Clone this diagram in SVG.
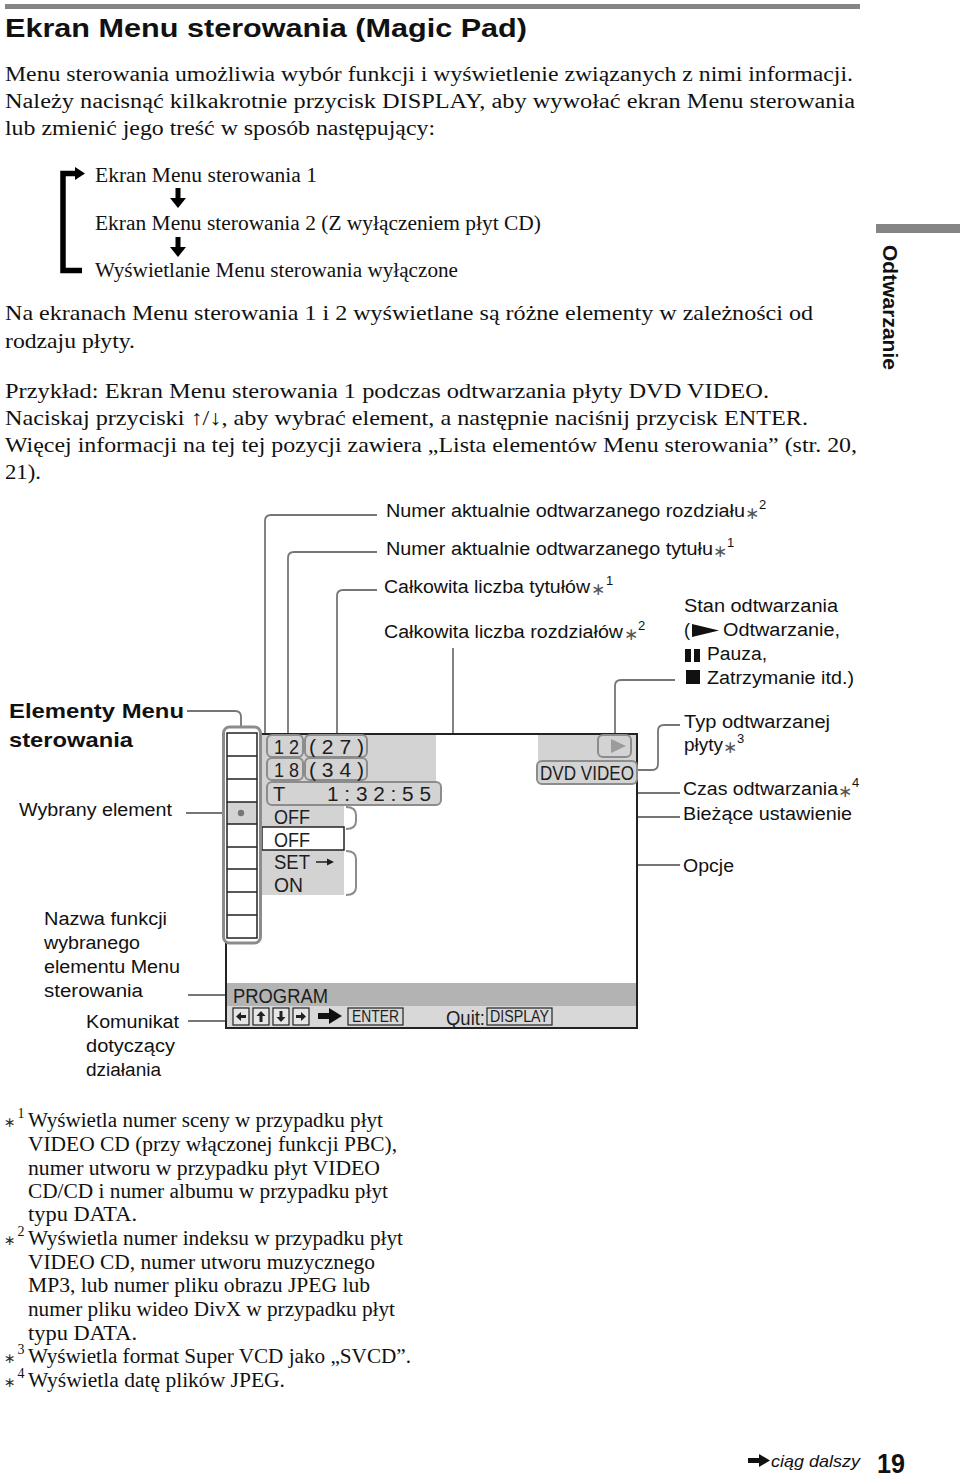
<svg xmlns="http://www.w3.org/2000/svg" width="960" height="1477" viewBox="0 0 960 1477">
<style>
.serif{font-family:"Liberation Serif","Times New Roman",serif;font-size:20px;fill:#111}
.sans{font-family:"Liberation Sans",Arial,sans-serif;font-size:18px;fill:#111}
.bold{font-weight:bold}
.conn{fill:none;stroke:#767676;stroke-width:1.8}
.box{fill:#d3d3d3;stroke:#8c8c8c;stroke-width:2}
.scr{font-family:"Liberation Sans",Arial,sans-serif;font-size:20px;fill:#1e1e1e}
.ast{font-family:"DejaVu Sans",sans-serif;font-size:17px;fill:#555}
.fast{font-family:"DejaVu Sans",sans-serif;font-size:14px;fill:#333}
.sup{font-family:"Liberation Sans",Arial,sans-serif;font-size:13px;fill:#111}
.fsup{font-family:"Liberation Serif",serif;font-size:14px;fill:#111}
.key{fill:#e6e6e6;stroke:#222;stroke-width:1.2}
</style>

<g id="header">
<rect x="5" y="4" width="855" height="5" fill="#858585"/>
<text class="sans bold" x="5" y="37" style="font-size:26px" textLength="522" lengthAdjust="spacingAndGlyphs">Ekran Menu sterowania (Magic Pad)</text>
</g>

<g id="intro">
<text class="serif" x="5" y="81" textLength="848" lengthAdjust="spacingAndGlyphs">Menu sterowania umożliwia wybór funkcji i wyświetlenie związanych z nimi informacji.</text>
<text class="serif" x="5" y="108" textLength="850" lengthAdjust="spacingAndGlyphs">Należy nacisnąć kilkakrotnie przycisk DISPLAY, aby wywołać ekran Menu sterowania</text>
<text class="serif" x="5" y="135" textLength="430" lengthAdjust="spacingAndGlyphs">lub zmienić jego treść w sposób następujący:</text>
</g>

<g id="cycle">
<path d="M77 173.5 H63 V270.5 H82" fill="none" stroke="#000" stroke-width="5.5"/>
<polygon points="75,167 85,173.5 75,180" fill="#000"/>
<text class="serif" x="95" y="182" textLength="222" lengthAdjust="spacingAndGlyphs">Ekran Menu sterowania 1</text>
<rect x="175.5" y="188" width="5" height="11" fill="#000"/>
<polygon points="170,198 186,198 178,208" fill="#000"/>
<text class="serif" x="95" y="230" textLength="446" lengthAdjust="spacingAndGlyphs">Ekran Menu sterowania 2 (Z wyłączeniem płyt CD)</text>
<rect x="175.5" y="237" width="5" height="11" fill="#000"/>
<polygon points="170,247 186,247 178,257" fill="#000"/>
<text class="serif" x="95" y="277" textLength="363" lengthAdjust="spacingAndGlyphs">Wyświetlanie Menu sterowania wyłączone</text>
</g>

<g id="para">
<text class="serif" x="5" y="320" style="font-size:21px" textLength="808" lengthAdjust="spacingAndGlyphs">Na ekranach Menu sterowania 1 i 2 wyświetlane są różne elementy w zależności od</text>
<text class="serif" x="5" y="348" style="font-size:21px" textLength="130" lengthAdjust="spacingAndGlyphs">rodzaju płyty.</text>
<text class="serif" x="5" y="398" style="font-size:21px" textLength="764" lengthAdjust="spacingAndGlyphs">Przykład: Ekran Menu sterowania 1 podczas odtwarzania płyty DVD VIDEO.</text>
<text class="serif" x="5" y="425" style="font-size:21px" textLength="803" lengthAdjust="spacingAndGlyphs">Naciskaj przyciski <tspan font-weight="bold">↑</tspan>/<tspan font-weight="bold">↓</tspan>, aby wybrać element, a następnie naciśnij przycisk ENTER.</text>
<text class="serif" x="5" y="452" style="font-size:21px" textLength="852" lengthAdjust="spacingAndGlyphs">Więcej informacji na tej tej pozycji zawiera „Lista elementów Menu sterowania” (str. 20,</text>
<text class="serif" x="5" y="479" style="font-size:21px" textLength="36" lengthAdjust="spacingAndGlyphs">21).</text>
</g>

<g id="side-tab">
<rect x="876" y="224" width="84" height="9" fill="#858585"/>
<text class="sans bold" style="font-size:21px" transform="translate(883,245) rotate(90)" textLength="125" lengthAdjust="spacingAndGlyphs">Odtwarzanie</text>
</g>

<g id="connectors">
<path class="conn" d="M377 515 H271 Q265 515 265 521 V762 Q265 769 268 769"/>
<path class="conn" d="M377 552 H294 Q288 552 288 558 V735"/>
<path class="conn" d="M377 590 H343 Q337 590 337 596 V735"/>
<path class="conn" d="M453 648 V762 Q453 768 447 768 H367"/>
<path class="conn" d="M675 680 H621 Q615 680 615 686 V735"/>
<path class="conn" d="M680 725 H664 Q658 725 658 731 V764 Q658 770 652 770 H637"/>
<path class="conn" d="M441 793 H680"/>
<path class="conn" d="M356 817 H680"/>
<path class="conn" d="M356 865 H680"/>
<path class="conn" d="M187 711 H235 Q241 711 241 717 V727"/>
<path class="conn" d="M186 813 H241"/>
<path class="conn" d="M188 995 H233"/>
<path class="conn" d="M188 1021 H233"/>
</g>

<g id="screen">
<rect x="226" y="734" width="411" height="294" fill="#fff" stroke="#222" stroke-width="2"/>
<rect x="262" y="735" width="174" height="55" fill="#d3d3d3"/>
<rect x="262" y="790" width="82" height="105" fill="#d3d3d3"/>
<rect x="538" y="735" width="98" height="28" fill="#d3d3d3"/>
<rect x="227" y="983" width="409" height="23" fill="#b3b3b3"/>
<rect x="227" y="1006" width="409" height="21" fill="#d8d8d8"/>
</g>

<g id="row-title">
<rect class="box" x="267" y="735" width="36" height="22" rx="5"/>
<text class="scr" x="274" y="754" textLength="25" lengthAdjust="spacingAndGlyphs">1 2</text>
<rect class="box" x="305" y="735" width="62" height="22" rx="5"/>
<text class="scr" x="309" y="754" textLength="55" lengthAdjust="spacingAndGlyphs">( 2 7 )</text>
</g>
<g id="row-chapter">
<rect class="box" x="267" y="758" width="36" height="22" rx="5"/>
<text class="scr" x="274" y="777" textLength="25" lengthAdjust="spacingAndGlyphs">1 8</text>
<rect class="box" x="305" y="758" width="62" height="22" rx="5"/>
<text class="scr" x="309" y="777" textLength="55" lengthAdjust="spacingAndGlyphs">( 3 4 )</text>
</g>
<g id="row-time">
<rect class="box" x="267" y="782" width="174" height="23" rx="5"/>
<text class="scr" x="273" y="801">T</text>
<text class="scr" x="327" y="801" textLength="104" lengthAdjust="spacingAndGlyphs">1 : 3 2 : 5 5</text>
</g>
<g id="status">
<rect class="box" x="598" y="735" width="33" height="22" rx="5"/>
<polygon points="611,739 611,753 626,746" fill="#9c9c9c"/>
<rect class="box" x="537" y="761" width="100" height="23" rx="5"/>
<text class="scr" x="540" y="780" textLength="94" lengthAdjust="spacingAndGlyphs">DVD VIDEO</text>
</g>
<g id="options">
<text class="scr" x="274" y="824" textLength="36" lengthAdjust="spacingAndGlyphs">OFF</text>
<rect x="262" y="827" width="82" height="23" fill="#fff" stroke="#222" stroke-width="1.5"/>
<text class="scr" x="274" y="847" textLength="36" lengthAdjust="spacingAndGlyphs">OFF</text>
<text class="scr" x="274" y="869" textLength="36" lengthAdjust="spacingAndGlyphs">SET</text>
<path d="M316 862 H328" stroke="#1e1e1e" stroke-width="1.5"/>
<polygon points="327,858.5 334,862 327,865.5" fill="#1e1e1e"/>
<text class="scr" x="274" y="892" textLength="29" lengthAdjust="spacingAndGlyphs">ON</text>
<path d="M346 807 Q356 807 356 815 V821 Q356 829 346 829" fill="none" stroke="#8c8c8c" stroke-width="2"/>
<path d="M346 851 Q356 851 356 859 V887 Q356 895 346 895" fill="none" stroke="#8c8c8c" stroke-width="2"/>
</g>

<g id="menu-column">
<rect x="223.5" y="727" width="37" height="216" rx="6" fill="#fff" stroke="#8c8c8c" stroke-width="3"/>
<rect x="227" y="802" width="30" height="22" fill="#d3d3d3"/>
<rect x="227" y="733" width="30" height="205" fill="none" stroke="#222" stroke-width="1.5"/>
<path d="M227 756 H257 M227 779 H257 M227 802 H257 M227 824 H257 M227 847 H257 M227 869 H257 M227 892 H257 M227 915 H257" stroke="#222" stroke-width="1.5"/>
<circle cx="241" cy="813" r="3.2" fill="#767676"/>
</g>

<g id="bottom-bar">
<text class="scr" x="233" y="1003" textLength="95" lengthAdjust="spacingAndGlyphs">PROGRAM</text>
<rect class="key" x="233" y="1008" width="16" height="17"/>
<polygon points="236,1016.5 241,1012 241,1021" fill="#222"/><rect x="240" y="1015" width="6" height="3" fill="#222"/>
<rect class="key" x="253" y="1008" width="16" height="17"/>
<polygon points="261,1011 256.5,1016 265.5,1016" fill="#222"/><rect x="259.5" y="1015" width="3" height="7" fill="#222"/>
<rect class="key" x="273" y="1008" width="16" height="17"/>
<polygon points="281,1022 276.5,1017 285.5,1017" fill="#222"/><rect x="279.5" y="1011" width="3" height="7" fill="#222"/>
<rect class="key" x="293" y="1008" width="16" height="17"/>
<polygon points="306,1016.5 301,1012 301,1021" fill="#222"/><rect x="296" y="1015" width="6" height="3" fill="#222"/>
<rect x="318" y="1013" width="12" height="6" fill="#111"/>
<polygon points="329,1008 342,1016 329,1024" fill="#111"/>
<rect x="348" y="1008" width="55" height="17" fill="none" stroke="#222" stroke-width="1.2"/>
<text class="scr" x="352" y="1022" style="font-size:16px" textLength="47" lengthAdjust="spacingAndGlyphs">ENTER</text>
<text class="scr" x="446" y="1025" textLength="39" lengthAdjust="spacingAndGlyphs">Quit:</text>
<rect x="487" y="1008" width="65" height="17" fill="none" stroke="#222" stroke-width="1.2"/>
<text class="scr" x="490" y="1022" style="font-size:16px" textLength="59" lengthAdjust="spacingAndGlyphs">DISPLAY</text>
</g>

<g id="lbl-chapter">
<text class="sans" x="386" y="517" textLength="359" lengthAdjust="spacingAndGlyphs">Numer aktualnie odtwarzanego rozdziału</text>
<text class="ast" x="745" y="519">∗</text><text class="sup" x="759" y="509">2</text>
</g>
<g id="lbl-title">
<text class="sans" x="386" y="555" textLength="327" lengthAdjust="spacingAndGlyphs">Numer aktualnie odtwarzanego tytułu</text>
<text class="ast" x="713" y="557">∗</text><text class="sup" x="727" y="547">1</text>
</g>
<g id="lbl-total-titles">
<text class="sans" x="384" y="593" textLength="206" lengthAdjust="spacingAndGlyphs">Całkowita liczba tytułów</text>
<text class="ast" x="591" y="595">∗</text><text class="sup" x="606" y="585">1</text>
</g>
<g id="lbl-total-chapters">
<text class="sans" x="384" y="638" textLength="239" lengthAdjust="spacingAndGlyphs">Całkowita liczba rozdziałów</text>
<text class="ast" x="624" y="640">∗</text><text class="sup" x="638" y="630">2</text>
</g>
<g id="lbl-status">
<text class="sans" x="684" y="612" textLength="154" lengthAdjust="spacingAndGlyphs">Stan odtwarzania</text>
<text class="sans" x="684" y="636">(</text>
<polygon points="692,624 719,630.5 692,637" fill="#111"/>
<text class="sans" x="723" y="636" textLength="117" lengthAdjust="spacingAndGlyphs">Odtwarzanie,</text>
<rect x="685" y="649" width="6" height="13" fill="#111"/><rect x="694" y="649" width="6" height="13" fill="#111"/>
<text class="sans" x="707" y="660" textLength="60" lengthAdjust="spacingAndGlyphs">Pauza,</text>
<rect x="686" y="670" width="14" height="14" fill="#111"/>
<text class="sans" x="707" y="684" textLength="147" lengthAdjust="spacingAndGlyphs">Zatrzymanie itd.)</text>
</g>
<g id="lbl-disc">
<text class="sans" x="684" y="728" textLength="146" lengthAdjust="spacingAndGlyphs">Typ odtwarzanej</text>
<text class="sans" x="684" y="751" textLength="39" lengthAdjust="spacingAndGlyphs">płyty</text>
<text class="ast" x="723" y="753">∗</text><text class="sup" x="737" y="743">3</text>
</g>
<g id="lbl-time">
<text class="sans" x="683" y="795" textLength="155" lengthAdjust="spacingAndGlyphs">Czas odtwarzania</text>
<text class="ast" x="838" y="797">∗</text><text class="sup" x="852" y="787">4</text>
</g>
<g id="lbl-setting">
<text class="sans" x="683" y="820" textLength="169" lengthAdjust="spacingAndGlyphs">Bieżące ustawienie</text>
</g>
<g id="lbl-options">
<text class="sans" x="683" y="872" textLength="51" lengthAdjust="spacingAndGlyphs">Opcje</text>
</g>
<g id="lbl-items">
<text class="sans bold" x="9" y="718" style="font-size:21px" textLength="175" lengthAdjust="spacingAndGlyphs">Elementy Menu</text>
<text class="sans bold" x="9" y="747" style="font-size:21px" textLength="124" lengthAdjust="spacingAndGlyphs">sterowania</text>
</g>
<g id="lbl-selected">
<text class="sans" x="19" y="816" textLength="153" lengthAdjust="spacingAndGlyphs">Wybrany element</text>
</g>
<g id="lbl-function">
<text class="sans" x="44" y="925" textLength="123" lengthAdjust="spacingAndGlyphs">Nazwa funkcji</text>
<text class="sans" x="44" y="949" textLength="96" lengthAdjust="spacingAndGlyphs">wybranego</text>
<text class="sans" x="44" y="973" textLength="136" lengthAdjust="spacingAndGlyphs">elementu Menu</text>
<text class="sans" x="44" y="997" textLength="99" lengthAdjust="spacingAndGlyphs">sterowania</text>
</g>
<g id="lbl-message">
<text class="sans" x="86" y="1028" textLength="93" lengthAdjust="spacingAndGlyphs">Komunikat</text>
<text class="sans" x="86" y="1052" textLength="89" lengthAdjust="spacingAndGlyphs">dotyczący</text>
<text class="sans" x="86" y="1076" textLength="75" lengthAdjust="spacingAndGlyphs">działania</text>
</g>

<g id="footnotes">
<text class="fast" x="4" y="1127">∗</text><text class="fsup" x="17.5" y="1118">1</text>
<text class="serif" x="28" y="1127" textLength="355" lengthAdjust="spacingAndGlyphs">Wyświetla numer sceny w przypadku płyt</text>
<text class="serif" x="28" y="1151" textLength="369" lengthAdjust="spacingAndGlyphs">VIDEO CD (przy włączonej funkcji PBC),</text>
<text class="serif" x="28" y="1175" textLength="352" lengthAdjust="spacingAndGlyphs">numer utworu w przypadku płyt VIDEO</text>
<text class="serif" x="28" y="1198" textLength="360" lengthAdjust="spacingAndGlyphs">CD/CD i numer albumu w przypadku płyt</text>
<text class="serif" x="28" y="1221" textLength="109" lengthAdjust="spacingAndGlyphs">typu DATA.</text>
<text class="fast" x="4" y="1245">∗</text><text class="fsup" x="17.5" y="1236">2</text>
<text class="serif" x="28" y="1245" textLength="375" lengthAdjust="spacingAndGlyphs">Wyświetla numer indeksu w przypadku płyt</text>
<text class="serif" x="28" y="1269" textLength="347" lengthAdjust="spacingAndGlyphs">VIDEO CD, numer utworu muzycznego</text>
<text class="serif" x="28" y="1292" textLength="342" lengthAdjust="spacingAndGlyphs">MP3, lub numer pliku obrazu JPEG lub</text>
<text class="serif" x="28" y="1316" textLength="367" lengthAdjust="spacingAndGlyphs">numer pliku wideo DivX w przypadku płyt</text>
<text class="serif" x="28" y="1340" textLength="109" lengthAdjust="spacingAndGlyphs">typu DATA.</text>
<text class="fast" x="4" y="1363">∗</text><text class="fsup" x="17.5" y="1354">3</text>
<text class="serif" x="28" y="1363" textLength="383" lengthAdjust="spacingAndGlyphs">Wyświetla format Super VCD jako „SVCD”.</text>
<text class="fast" x="4" y="1387">∗</text><text class="fsup" x="17.5" y="1378">4</text>
<text class="serif" x="28" y="1387" textLength="257" lengthAdjust="spacingAndGlyphs">Wyświetla datę plików JPEG.</text>
</g>

<g id="footer">
<rect x="748" y="1458" width="12" height="5" fill="#111"/>
<polygon points="759,1454 770,1460.5 759,1467" fill="#111"/>
<text class="sans" x="771" y="1467" style="font-size:17px;font-style:italic" textLength="89" lengthAdjust="spacingAndGlyphs">ciąg dalszy</text>
<text class="sans bold" x="877" y="1473" style="font-size:28px" textLength="28" lengthAdjust="spacingAndGlyphs">19</text>
</g>
</svg>
